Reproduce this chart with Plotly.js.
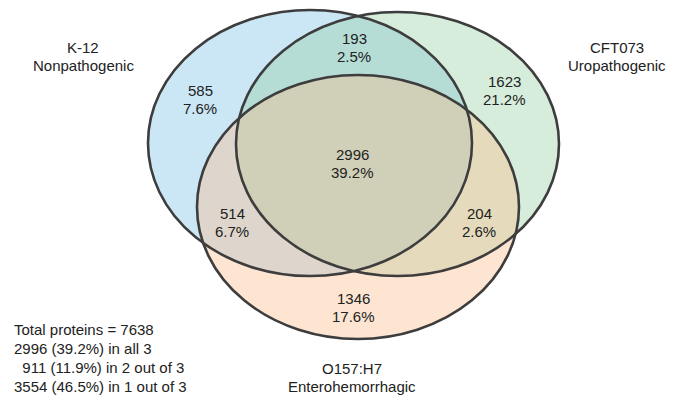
<!DOCTYPE html>
<html>
<head>
<meta charset="utf-8">
<script src="https://cdn.plot.ly/plotly-3.0.1.min.js"></script>
<style>html,body{margin:0;padding:0;background:#fff;}#chart{width:677px;height:396px;}</style>
</head>
<body>
<div id="chart"></div>
<script>
// ---- data ----
const setNames = ['K-12', 'CFT073', 'O157:H7'];
const setSubtitles = ['Nonpathogenic', 'Uropathogenic', 'Enterohemorrhagic'];
const regionKeys = ['A', 'AB', 'B', 'ABC', 'AC', 'BC', 'C'];
const regionCounts = [585, 193, 1623, 2996, 514, 204, 1346];
const regionPercents = ['7.6%', '2.5%', '21.2%', '39.2%', '6.7%', '2.6%', '17.6%'];
const totalProteins = 7638;

// ---- layout geometry (pixel-like plot units) ----
const ellipses = [
  {cx: 310, cy: 143, rx: 162, ry: 133, fill: 'rgb(203,231,246)'},
  {cx: 397.5, cy: 144, rx: 161.5, ry: 132, fill: 'rgba(141,204,152,0.35)'},
  {cx: 358, cy: 207, rx: 161, ry: 132, fill: 'rgba(250,190,143,0.40)'}
];
const regionPos = {
  A: [200, 90], AB: [354, 38], B: [504, 81], ABC: [352, 154],
  AC: [232, 213], BC: [479, 213], C: [353, 298]
};
const setLabelPos = [[83, 47], [617, 47], [352, 368]];
const lineGap = 18.5;
const textColor = '#222222';
const fontFam = '"Liberation Sans", Arial, Helvetica, sans-serif';
const fs = 15;

const shapes = [];
ellipses.forEach(e => shapes.push({
  type: 'circle', xref: 'x', yref: 'y',
  x0: e.cx - e.rx, x1: e.cx + e.rx, y0: e.cy - e.ry, y1: e.cy + e.ry,
  fillcolor: e.fill, line: {width: 0}
}));
ellipses.forEach(e => shapes.push({
  type: 'circle', xref: 'x', yref: 'y',
  x0: e.cx - e.rx, x1: e.cx + e.rx, y0: e.cy - e.ry, y1: e.cy + e.ry,
  fillcolor: 'rgba(0,0,0,0)', line: {color: '#3d3d3d', width: 2.6}
}));

const annotations = [];
function addText(x, y, text, anchor) {
  annotations.push({
    xref: 'x', yref: 'y', x: x, y: y, text: text, showarrow: false,
    xanchor: anchor || 'center', yanchor: 'middle',
    font: {family: fontFam, size: fs, color: textColor}
  });
}
regionKeys.forEach((k, i) => {
  const p = regionPos[k];
  addText(p[0], p[1], String(regionCounts[i]));
  addText(p[0], p[1] + lineGap, regionPercents[i]);
});
setNames.forEach((n, i) => {
  const p = setLabelPos[i];
  addText(p[0], p[1], n);
  addText(p[0], p[1] + lineGap, setSubtitles[i]);
});

const countOf = k => regionCounts[regionKeys.indexOf(k)];
const inAll = countOf('ABC');
const inTwo = countOf('AB') + countOf('AC') + countOf('BC');
const inOne = countOf('A') + countOf('B') + countOf('C');
const pct = v => (100 * v / totalProteins).toFixed(1) + '%';
const summary = [
  'Total proteins = ' + totalProteins,
  inAll + ' (' + pct(inAll) + ') in all 3',
  '&nbsp;&nbsp;' + inTwo + ' (' + pct(inTwo) + ') in 2 out of 3',
  inOne + ' (' + pct(inOne) + ') in 1 out of 3'
];
summary.forEach((s, i) => addText(12, 329 + i * 19, s, 'left'));

const layout = {
  width: 677, height: 396,
  margin: {l: 0, r: 0, t: 0, b: 0},
  paper_bgcolor: '#ffffff', plot_bgcolor: '#ffffff',
  xaxis: {range: [0, 677], visible: false, fixedrange: true},
  yaxis: {range: [396, 0], visible: false, fixedrange: true},
  showlegend: false,
  shapes: shapes,
  annotations: annotations
};
Plotly.newPlot('chart', [{x: [], y: [], type: 'scatter', mode: 'markers', hoverinfo: 'skip'}], layout, {displayModeBar: false, staticPlot: true});
</script>
</body>
</html>
